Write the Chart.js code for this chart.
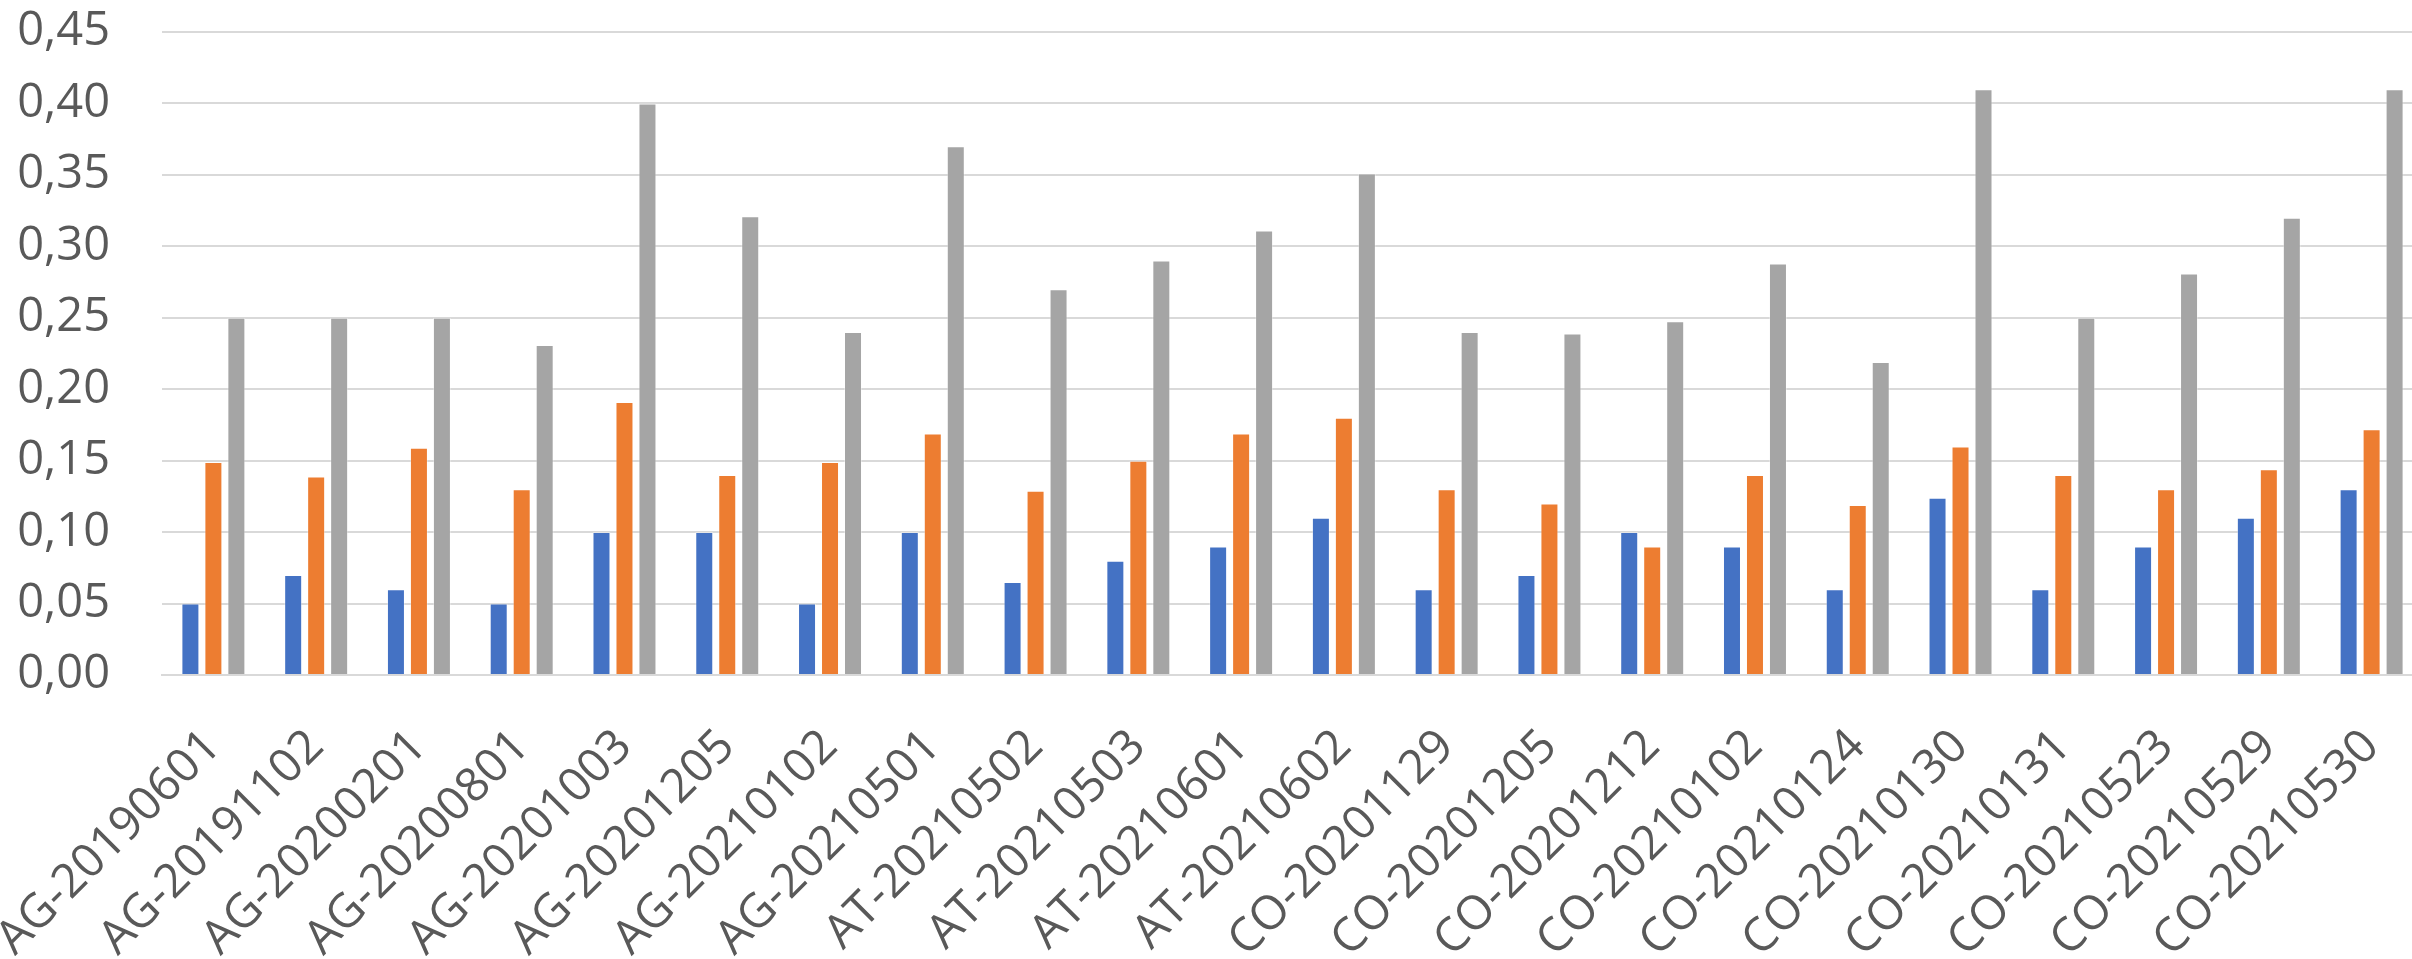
<!DOCTYPE html>
<html>
<head>
<meta charset="utf-8">
<script src="https://cdn.jsdelivr.net/npm/chart.js@4/dist/chart.umd.min.js"></script>
<style>
  html, body { margin: 0; padding: 0; background: #ffffff; overflow: hidden; }
  #wrap { width: 2412px; height: 959px; overflow: hidden; position: relative; }
  canvas { display: block; }
</style>
</head>
<body>
<div id="wrap"><canvas id="c" width="2423" height="959"></canvas></div>
<script>
const categories = [
  'AG-20190601', 'AG-20191102', 'AG-20200201', 'AG-20200801', 'AG-20201003',
  'AG-20201205', 'AG-20210102', 'AG-20210501', 'AT-20210502', 'AT-20210503',
  'AT-20210601', 'AT-20210602', 'CO-20201129', 'CO-20201205', 'CO-20201212',
  'CO-20210102', 'CO-20210124', 'CO-20210130', 'CO-20210131', 'CO-20210523',
  'CO-20210529', 'CO-20210530'
];

const serie1 = [0.05, 0.07, 0.06, 0.05, 0.10, 0.10, 0.05, 0.10, 0.065, 0.08, 0.09,
                0.11, 0.06, 0.07, 0.10, 0.09, 0.06, 0.124, 0.06, 0.09, 0.11, 0.13];
const serie2 = [0.149, 0.139, 0.159, 0.13, 0.191, 0.14, 0.149, 0.169, 0.129, 0.15, 0.169,
                0.18, 0.13, 0.12, 0.09, 0.14, 0.119, 0.16, 0.14, 0.13, 0.144, 0.172];
const serie3 = [0.25, 0.25, 0.25, 0.231, 0.40, 0.321, 0.24, 0.37, 0.27, 0.29, 0.311,
                0.351, 0.24, 0.239, 0.2475, 0.288, 0.219, 0.41, 0.25, 0.281, 0.32, 0.41];

const yMin = 0, yMax = 0.45, yStep = 0.05;

const textColor = '#595959';
const gridColor = '#D9D9D9';
const fontFamily = '"Open Sans", "Noto Sans", sans-serif';

function bar(label, data, color) {
  return {
    label, data,
    backgroundColor: color,
    borderColor: 'rgba(255,255,255,0.35)',
    borderWidth: 1,
    categoryPercentage: 0.671,
    barPercentage: 0.783
  };
}

new Chart(document.getElementById('c'), {
  type: 'bar',
  data: {
    labels: categories,
    datasets: [
      bar('Serie 1', serie1, '#4472C4'),
      bar('Serie 2', serie2, '#ED7D31'),
      bar('Serie 3', serie3, '#A5A5A5')
    ]
  },
  options: {
    responsive: false,
    animation: false,
    layout: { padding: { top: 32, left: 0, right: 0, bottom: 0 } },
    plugins: { legend: { display: false }, tooltip: { enabled: false } },
    scales: {
      x: {
        offset: true,
        grid: { display: false, drawTicks: false },
        border: { display: true, color: gridColor, width: 2 },
        ticks: {
          autoSkip: false,
          minRotation: 45,
          maxRotation: 45,
          padding: 44,
          color: textColor,
          font: { family: fontFamily, size: 47 }
        },
        afterFit(scale) {
          scale.height = 284;
          scale.paddingLeft = 0;
          scale.paddingRight = 0;
          scale.paddingTop = 0;
          scale.paddingBottom = 0;
        }
      },
      y: {
        min: yMin,
        max: yMax,
        grid: { color: gridColor, lineWidth: 2, drawTicks: false },
        border: { display: false },
        ticks: {
          stepSize: yStep,
          padding: 52,
          color: textColor,
          font: { family: fontFamily, size: 47 },
          callback: (v) => v.toFixed(2).replace('.', ',')
        },
        afterFit(scale) {
          scale.width = 162;
          scale.paddingTop = 0;
          scale.paddingBottom = 0;
        }
      }
    }
  }
});
</script>
</body>
</html>
